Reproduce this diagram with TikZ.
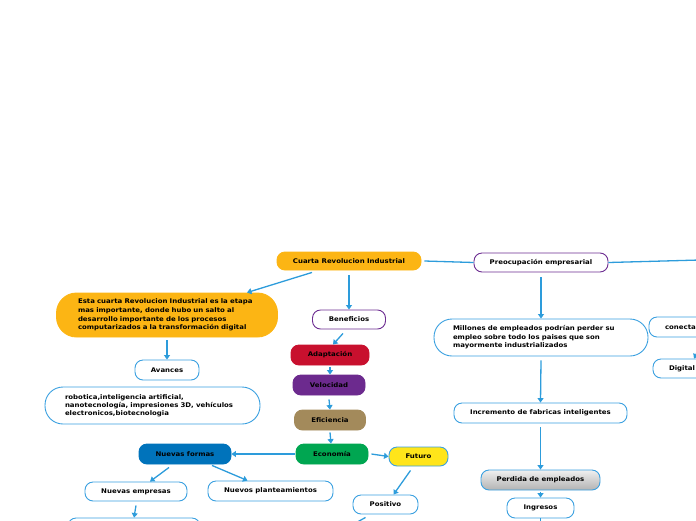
\documentclass[tikz,border=0pt]{standalone}
\usepackage{fontspec}
\setmainfont{DejaVu Sans}[FakeStretch=1.09]
\usetikzlibrary{arrows.meta}
\definecolor{corange}{HTML}{FCB514}
\definecolor{ccrimson}{HTML}{C8102E}
\definecolor{cpurple}{HTML}{6C2A8E}
\definecolor{ctan}{HTML}{A38A5B}
\definecolor{cgreen}{HTML}{00A651}
\definecolor{cnf}{HTML}{0073BB}
\definecolor{cyellow}{HTML}{FFE51A}
\definecolor{lineblue}{HTML}{2D9CDB}
\definecolor{bordblue}{HTML}{3AA0E0}
\definecolor{purpbord}{HTML}{6D2D91}
\tikzset{
  box/.style={rounded corners=8pt, minimum height=20pt, inner sep=0pt,
    font=\fontsize{6.4}{8.5}\selectfont\bfseries, align=center, line width=0.9pt},
  wb/.style={box, draw=bordblue, fill=white},
  pb/.style={box, draw=purpbord, fill=white},
  conn/.style={draw=lineblue, line width=1.3pt, -{Triangle[width=6pt,length=4.5pt]}},
  plain/.style={draw=lineblue, line width=1.3pt}
}
\begin{document}
\begin{tikzpicture}[x=1pt,y=-1pt]
\useasboundingbox (0,0) rectangle (696,520);
\clip (0,0) rectangle (696,520);
% nodes
\node[box, fill=corange, draw=corange, minimum width=144pt, minimum height=18pt] (cuarta) at (349,261) {Cuarta Revolucion Industrial};
\node[pb, minimum width=134pt, minimum height=19pt] (preo) at (541,262.5) {Preocupación empresarial};
\node[box, fill=corange, draw=corange, minimum width=221pt, minimum height=44pt, rounded corners=20pt, text width=178pt, align=left, font=\fontsize{6.4}{8.7}\selectfont\bfseries] (esta) at (167,315) {Esta cuarta Revolucion Industrial es la etapa\\mas importante, donde hubo un salto al\\desarrollo importante de los procesos\\computarizados a la transformación digital};
\node[pb, minimum width=73pt, minimum height=19pt] (benef) at (349,319.5) {Beneficios};
\node[box, fill=ccrimson, draw=ccrimson, minimum width=78pt] (adapt) at (330,355) {Adaptación};
\node[box, fill=cpurple, draw=cpurple, minimum width=72pt] (veloc) at (329,385) {Velocidad};
\node[box, fill=ctan, draw=ctan, minimum width=71pt] (efic) at (330,420) {Eficiencia};
\node[box, fill=cgreen, draw=cgreen, minimum width=72pt] (econ) at (332,454) {Economía};
\node[box, fill=cyellow, draw=bordblue, minimum width=59pt, minimum height=19pt] (fut) at (418.5,456.5) {Futuro};
\node[wb, minimum width=65pt, minimum height=19pt] (pos) at (385.5,504.5) {Positivo};
\node[box, fill=cnf, draw=cnf, minimum width=92pt] (nf) at (185,454) {Nuevas formas};
\node[wb, minimum width=102pt, minimum height=19pt] (ne) at (136,491.5) {Nuevas empresas};
\node[wb, minimum width=125pt] (np) at (270.5,491) {Nuevos planteamientos};
\node[wb, minimum width=132pt, minimum height=24pt] (nb) at (134,530) {};
\node[wb, minimum width=64pt] (av) at (167,370) {Avances};
\node[wb, minimum width=215pt, minimum height=37pt, rounded corners=18pt, text width=175pt, align=left, font=\fontsize{6.4}{8}\selectfont\bfseries] (rob) at (152.5,405.5) {robotica,inteligencia artificial,\\nanotecnología, impresiones 3D, vehículos\\electronicos,biotecnologia};
\node[wb, minimum width=214pt, minimum height=37pt, rounded corners=18pt, text width=176pt, align=left, font=\fontsize{6.4}{8.5}\selectfont\bfseries] (mill) at (541,337.5) {Millones de empleados podrían perder su\\empleo sobre todo los paises que son\\mayormente industrializados};
\node[wb, minimum width=173pt] (incr) at (540.5,413) {Incremento de fabricas inteligentes};
\node[box, draw=bordblue, top color=gray!12, bottom color=gray!60, minimum width=119pt] (perd) at (540.5,480) {Perdida de empleados};
\node[wb, minimum width=67pt] (ingr) at (540.5,508) {Ingresos};
\node[wb, minimum width=82pt, text width=50pt, align=left] (conecta) at (690,327) {conecta};
\node[wb, minimum width=84pt, minimum height=19pt, text width=52pt, align=left] (dig) at (695,368.5) {Digital};
% free ends
\coordinate (offr) at (700,260);
\coordinate (offb) at (540.5,526);
\coordinate (offp) at (352,525);
\coordinate (cd) at (703,341);
% connectors
\draw[conn] ([xshift=-37pt,yshift=-2pt]cuarta.south) -- ([xshift=80pt]esta.north);
\draw[conn] ([yshift=-5pt]cuarta.south) -- (benef.north);
\draw[plain] ([xshift=3pt]cuarta.east) -- (preo.west);
\draw[plain] (preo.east) -- (offr);
\draw[conn] ([yshift=-5pt]preo.south) -- (mill.north);
\draw[conn] ([yshift=-4pt]mill.south) -- (incr.north);
\draw[conn] ([yshift=-4pt]incr.south) -- (perd.north);
\draw[conn] ([yshift=-1.5pt]perd.south) -- (ingr.north);
\draw[plain] (ingr.south) -- (offb);
\draw[conn] ([xshift=-6pt,yshift=-4pt]benef.south) -- ([xshift=3pt]adapt.north);
\draw[conn] ([yshift=-2pt]adapt.south) -- ([xshift=1pt]veloc.north);
\draw[conn] ([yshift=-4pt]veloc.south) -- (efic.north);
\draw[conn] ([yshift=-2pt]efic.south) -- ([xshift=-1pt]econ.north);
\draw[conn] ([xshift=-1pt]econ.west) -- (nf.east);
\draw[conn] ([xshift=3pt]econ.east) -- (fut.west);
\draw[conn] ([xshift=-8pt,yshift=-4pt]fut.south) -- ([xshift=8pt]pos.north);
\draw[plain] ([xshift=-20pt,yshift=-3pt]pos.south) -- (offp);
\draw[conn] ([xshift=-16pt,yshift=-3pt]nf.south) -- ([xshift=14pt]ne.north);
\draw[conn] ([xshift=27pt,yshift=-1pt]nf.south) -- ([xshift=-23pt]np.north);
\draw[conn] ([yshift=-4pt]ne.south) -- (nb.north);
\draw[conn] ([yshift=-3pt]esta.south) -- (av.north);
\draw[conn] (cd) -- ([xshift=-1pt]dig.north);
\end{tikzpicture}
\end{document}
